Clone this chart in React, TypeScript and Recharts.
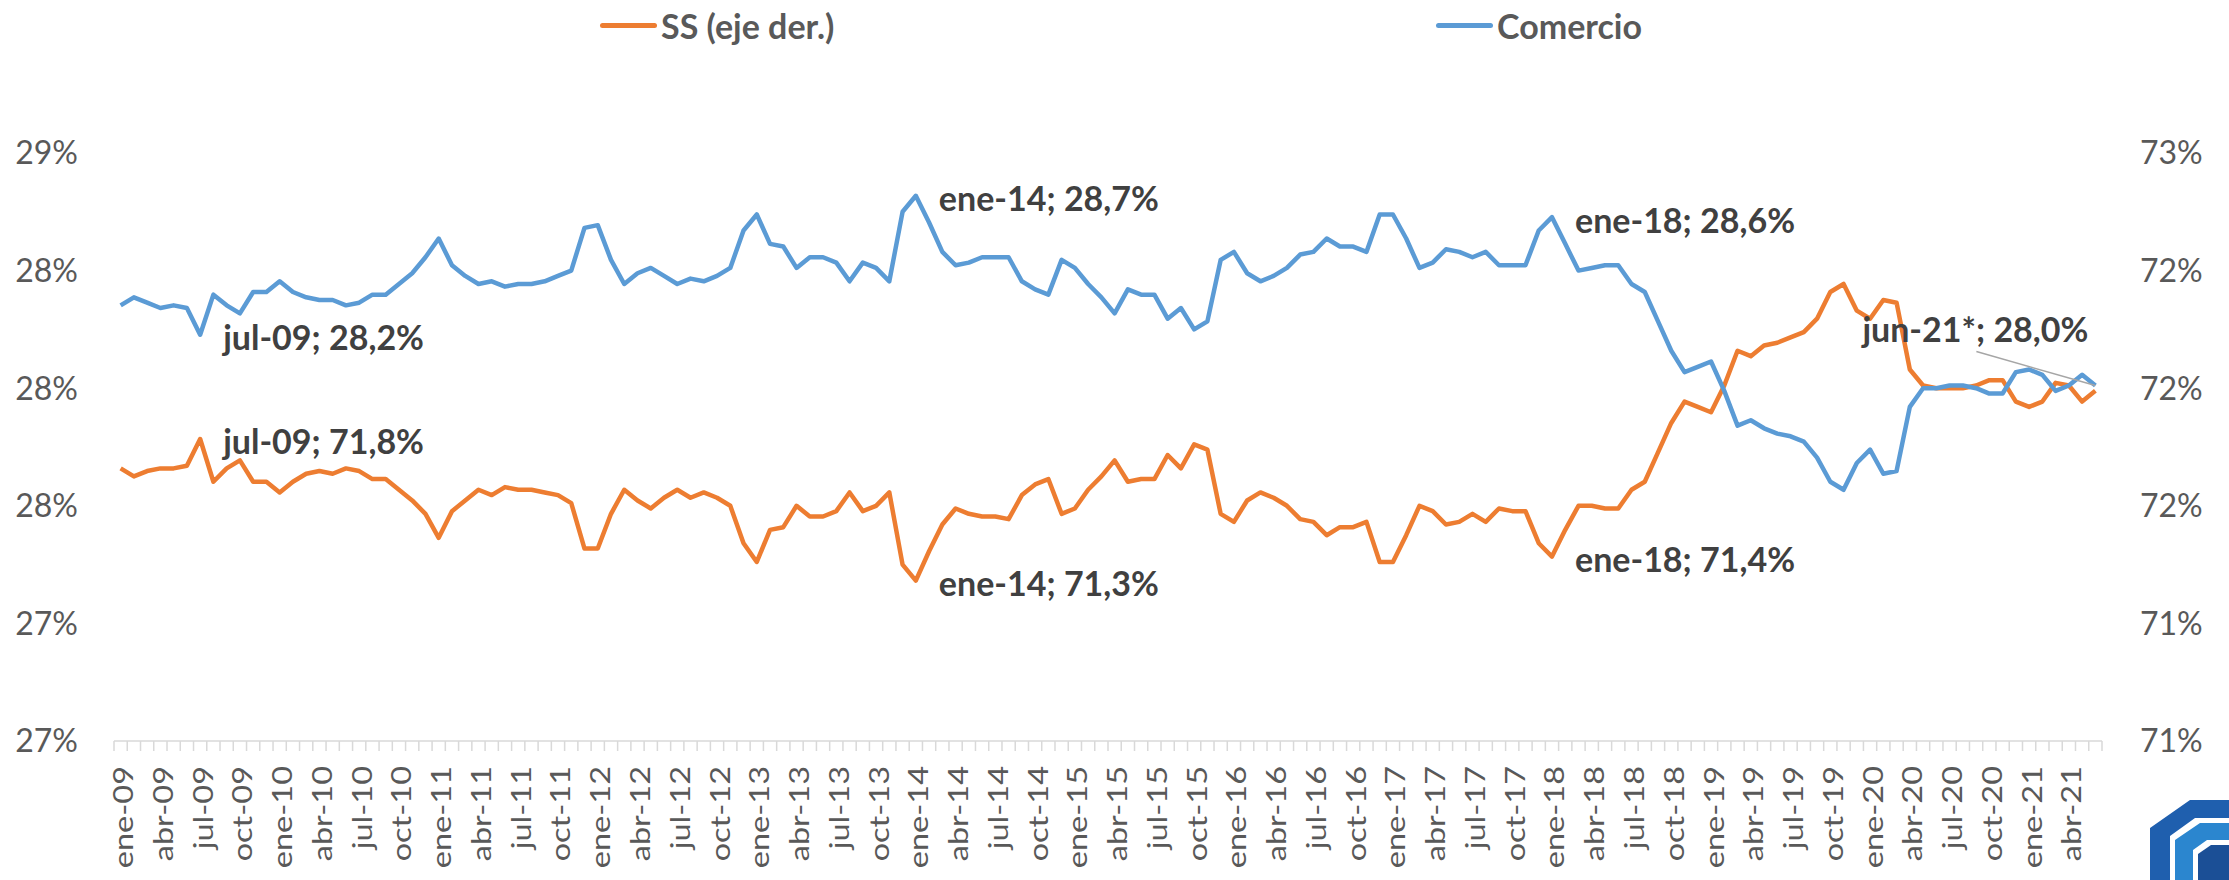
import { LineChart, Line, XAxis, YAxis, LabelList } from "recharts";

const W = 2229;
const H = 880;
const FONT = "Lato, 'Open Sans', sans-serif";
const ORANGE = "#ED7D31";
const BLUE = "#5B9BD5";
const BAND = 13.25; // width of one month on the x axis

const MONTHS = ["ene", "feb", "mar", "abr", "may", "jun", "jul", "ago", "sep", "oct", "nov", "dic"];
const YEARS = ["09", "10", "11", "12", "13", "14", "15", "16", "17", "18", "19", "20", "21"];
const categories = YEARS.flatMap((y) => MONTHS.map((m) => `${m}-${y}`)).slice(0, 150);

// Comercio, left axis (%)
const comercio = [
  28.28, 28.31, 28.29, 28.27, 28.28, 28.27, 28.17, 28.32, 28.28, 28.25, 28.33, 28.33,
  28.37, 28.33, 28.31, 28.3, 28.3, 28.28, 28.29, 28.32, 28.32, 28.36, 28.4, 28.46,
  28.53, 28.43, 28.39, 28.36, 28.37, 28.35, 28.36, 28.36, 28.37, 28.39, 28.41, 28.57,
  28.58, 28.45, 28.36, 28.4, 28.42, 28.39, 28.36, 28.38, 28.37, 28.39, 28.42, 28.56,
  28.62, 28.51, 28.5, 28.42, 28.46, 28.46, 28.44, 28.37, 28.44, 28.42, 28.37, 28.63,
  28.69, 28.59, 28.48, 28.43, 28.44, 28.46, 28.46, 28.46, 28.37, 28.34, 28.32, 28.45,
  28.42, 28.36, 28.31, 28.25, 28.34, 28.32, 28.32, 28.23, 28.27, 28.19, 28.22, 28.45,
  28.48, 28.4, 28.37, 28.39, 28.42, 28.47, 28.48, 28.53, 28.5, 28.5, 28.48, 28.62,
  28.62, 28.53, 28.42, 28.44, 28.49, 28.48, 28.46, 28.48, 28.43, 28.43, 28.43, 28.56,
  28.61, 28.51, 28.41, 28.42, 28.43, 28.43, 28.36, 28.33, 28.22, 28.11, 28.03, 28.05,
  28.07, 27.96, 27.83, 27.85, 27.82, 27.8, 27.79, 27.77, 27.71, 27.62, 27.59, 27.69,
  27.74, 27.65, 27.66, 27.9, 27.97, 27.97, 27.98, 27.98, 27.97, 27.95, 27.95, 28.03,
  28.04, 28.02, 27.96, 27.98, 28.02, 27.98,
];

// SS, right axis (%)
const ss = [
  71.72, 71.69, 71.71, 71.72, 71.72, 71.73, 71.83, 71.67, 71.72, 71.75, 71.67, 71.67,
  71.63, 71.67, 71.7, 71.71, 71.7, 71.72, 71.71, 71.68, 71.68, 71.64, 71.6, 71.55,
  71.46, 71.56, 71.6, 71.64, 71.62, 71.65, 71.64, 71.64, 71.63, 71.62, 71.59, 71.42,
  71.42, 71.55, 71.64, 71.6, 71.57, 71.61, 71.64, 71.61, 71.63, 71.61, 71.58, 71.44,
  71.37, 71.49, 71.5, 71.58, 71.54, 71.54, 71.56, 71.63, 71.56, 71.58, 71.63, 71.36,
  71.3, 71.41, 71.51, 71.57, 71.55, 71.54, 71.54, 71.53, 71.62, 71.66, 71.68, 71.55,
  71.57, 71.64, 71.69, 71.75, 71.67, 71.68, 71.68, 71.77, 71.72, 71.81, 71.79, 71.55,
  71.52, 71.6, 71.63, 71.61, 71.58, 71.53, 71.52, 71.47, 71.5, 71.5, 71.52, 71.37,
  71.37, 71.47, 71.58, 71.56, 71.51, 71.52, 71.55, 71.52, 71.57, 71.56, 71.56, 71.44,
  71.39, 71.49, 71.58, 71.58, 71.57, 71.57, 71.64, 71.67, 71.78, 71.89, 71.97, 71.95,
  71.93, 72.03, 72.16, 72.14, 72.18, 72.19, 72.21, 72.23, 72.28, 72.38, 72.41, 72.31,
  72.28, 72.35, 72.34, 72.09, 72.03, 72.02, 72.02, 72.02, 72.03, 72.05, 72.05, 71.97,
  71.95, 71.97, 72.04, 72.03, 71.97, 72.01,
];

const leftTicks = [26.65, 27.09, 27.53, 27.97, 28.41, 28.85];
const rightTicks = [70.7, 71.14, 71.58, 72.02, 72.46, 72.9];

const comercioCallouts = ["jul-09", "ene-14", "ene-18", "jun-21"];
const ssCallouts = ["jul-09", "ene-14", "ene-18"];
const starred = ["jun-21"]; // preliminary month
const leaderCallout = "jun-21";

const data = categories.map((name, i) => ({ name, comercio: comercio[i], ss: ss[i] }));

const pct = (v: number) => `${Math.round(v)}%`;
const calloutText = (cat: string, v: number) =>
  `${cat}${starred.includes(cat) ? "*" : ""}; ${v.toFixed(1).replace(".", ",")}%`;

function MonthTick(props: any) {
  const { x, y, index } = props;
  const last = index === categories.length - 1;
  return (
    <g>
      <line x1={x - BAND / 2} x2={x - BAND / 2} y1={y} y2={y + 10} stroke="#d9d9d9" strokeWidth={1.5} />
      {last && <line x1={x + BAND / 2} x2={x + BAND / 2} y1={y} y2={y + 10} stroke="#d9d9d9" strokeWidth={1.5} />}
      {index % 3 === 0 && (
        <text
          transform={`translate(${x + 12.5},${y + 25}) rotate(-90) scale(1.25,1)`}
          textAnchor="end"
          fontSize={26}
          fontFamily={FONT}
          fill="#595959"
        >
          {props.payload.value}
        </text>
      )}
    </g>
  );
}

function makeCallout(list: string[], key: "comercio" | "ss") {
  return (props: any) => {
    const cat = props.value as string;
    if (!list.includes(cat)) return null;
    const x = props.x ?? props.viewBox?.x;
    const y = props.y ?? props.viewBox?.y;
    const v = data[categories.indexOf(cat)][key];
    if (cat === leaderCallout && key === "comercio") {
      return (
        <g>
          <line x1={x} y1={y} x2={x - 119} y2={y - 34} stroke="#a6a6a6" strokeWidth={1.5} />
          <text x={x - 233} y={y - 57} dominantBaseline="central" fontSize={34} fontWeight={700} fontFamily={FONT} fill="#404040">
            {calloutText(cat, v)}
          </text>
        </g>
      );
    }
    return (
      <text x={x + 23} y={y + 2} dominantBaseline="central" fontSize={34} fontWeight={700} fontFamily={FONT} fill="#404040">
        {calloutText(cat, v)}
      </text>
    );
  };
}

function LegendItem({ left, color, label }: { left: number; color: string; label: string }) {
  return (
    <div style={{ position: "absolute", left, top: 5, height: 40, display: "flex", alignItems: "center" }}>
      <div style={{ width: 57, height: 5, borderRadius: 3, background: color, marginRight: 4 }} />
      <span style={{ fontSize: 34, fontWeight: 700, color: "#595959", fontFamily: FONT }}>{label}</span>
    </div>
  );
}

export default function App() {
  return (
    <div style={{ position: "relative", width: W, height: H, background: "#fff", fontFamily: FONT, overflow: "hidden" }}>
      <style>{"body{margin:0}"}</style>
      <LegendItem left={600} color={ORANGE} label="SS (eje der.)" />
      <LegendItem left={1436} color={BLUE} label="Comercio" />
      <LineChart width={W} height={H} data={data} margin={{ top: 153, right: 0, bottom: 0, left: 0 }}>
        <XAxis
          dataKey="name"
          interval={0}
          height={139}
          tickSize={0}
          tickMargin={0}
          tickLine={false}
          axisLine={{ stroke: "#d9d9d9", strokeWidth: 1.5 }}
          padding={{ left: BAND / 2, right: BAND / 2 }}
          tick={(p: any) => <MonthTick {...p} />}
        />
        <YAxis
          yAxisId="left"
          width={114}
          domain={[leftTicks[0], leftTicks[leftTicks.length - 1]]}
          ticks={leftTicks}
          allowDataOverflow
          tickFormatter={pct}
          axisLine={false}
          tickLine={false}
          tickMargin={30}
          tick={{ fill: "#595959", fontSize: 32, fontFamily: FONT }}
        />
        <YAxis
          yAxisId="right"
          orientation="right"
          width={127}
          domain={[rightTicks[0], rightTicks[rightTicks.length - 1]]}
          ticks={rightTicks}
          allowDataOverflow
          tickFormatter={pct}
          axisLine={false}
          tickLine={false}
          tickMargin={32}
          tick={{ fill: "#595959", fontSize: 32, fontFamily: FONT }}
        />
        <Line
          yAxisId="right"
          dataKey="ss"
          name="SS (eje der.)"
          stroke={ORANGE}
          strokeWidth={4.5}
          strokeLinejoin="round"
          dot={false}
          isAnimationActive={false}
        >
          <LabelList dataKey="name" content={makeCallout(ssCallouts, "ss")} />
        </Line>
        <Line
          yAxisId="left"
          dataKey="comercio"
          name="Comercio"
          stroke={BLUE}
          strokeWidth={4.5}
          strokeLinejoin="round"
          dot={false}
          isAnimationActive={false}
        >
          <LabelList dataKey="name" content={makeCallout(comercioCallouts, "comercio")} />
        </Line>
      </LineChart>
      <svg width={90} height={95} style={{ position: "absolute", left: 2145, top: 788 }}>
        <polygon points="5,40 45,12 85,12 85,30 50,30 25,48 25,95 5,95" fill="#1f5fae" />
        <polygon points="30,52 55,35 85,35 85,52 62,52 48,62 48,95 30,95" fill="#2b86cf" />
        <polygon points="53,66 66,57 85,57 85,95 53,95" fill="#1b4f96" />
      </svg>
    </div>
  );
}
